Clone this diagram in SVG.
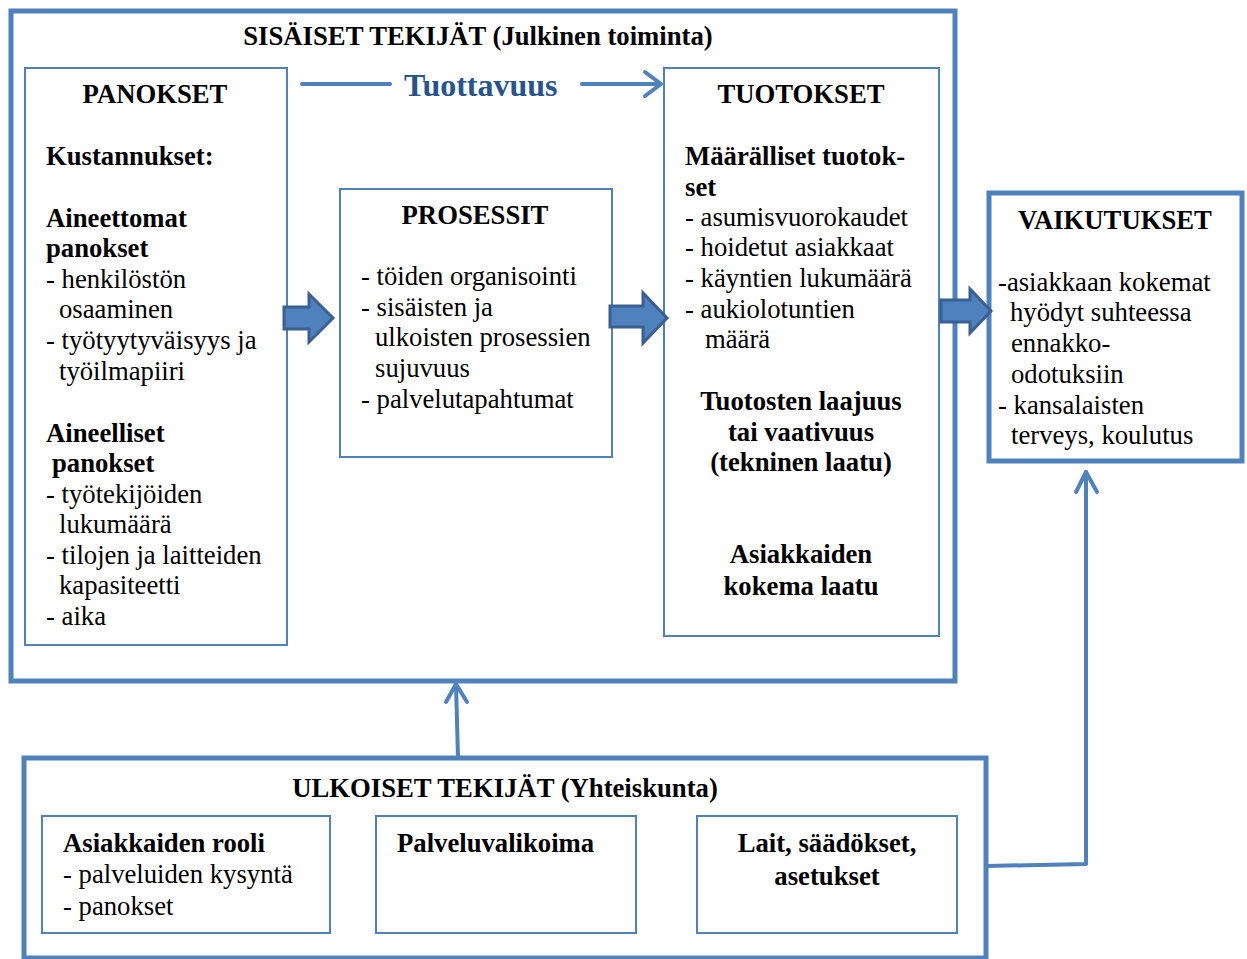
<svg xmlns="http://www.w3.org/2000/svg" width="1247" height="959" viewBox="0 0 1247 959">
<style>
text{font-family:"Liberation Serif","Times New Roman",serif;font-size:26.7px;fill:#000}
.b{font-weight:bold}
.c{text-anchor:middle}
.thin{fill:#fff;stroke:#4f81bd;stroke-width:2}
.thick{fill:none;stroke:#4f81bd;stroke-width:5}
.con{fill:none;stroke:#4f81bd;stroke-width:4;stroke-linecap:round;stroke-linejoin:round}
.blk{fill:#4f81bd;stroke:#3a5f92;stroke-width:3;stroke-linejoin:miter}
.tv{font-size:32px;font-weight:bold;fill:#27548f}
</style>
<rect width="1247" height="959" fill="#fff"/>
<g id="sisaiset">
<rect class="thick" x="11" y="11" width="944" height="670"/>
<text class="b c" x="478" y="45">SISÄISET TEKIJÄT (Julkinen toiminta)</text>
</g>
<g id="panokset">
<rect class="thin" x="25" y="68" width="262" height="577"/>
<text class="b c" x="155" y="103">PANOKSET</text>
<text class="b" x="46" y="165">Kustannukset:</text>
<text class="b" x="46" y="227">Aineettomat</text>
<text class="b" x="46" y="257">panokset</text>
<text x="46" y="288">- henkilöstön</text>
<text x="59" y="318">osaaminen</text>
<text x="46" y="349">- työtyytyväisyys ja</text>
<text x="59" y="380">työilmapiiri</text>
<text class="b" x="46" y="442">Aineelliset</text>
<text class="b" x="52" y="472">panokset</text>
<text x="46" y="503">- työtekijöiden</text>
<text x="59" y="533">lukumäärä</text>
<text x="46" y="564">- tilojen ja laitteiden</text>
<text x="59" y="594">kapasiteetti</text>
<text x="46" y="625">- aika</text>
</g>
<g id="prosessit">
<rect class="thin" x="340" y="189" width="272" height="268"/>
<text class="b c" x="475" y="224">PROSESSIT</text>
<text x="361" y="285">- töiden organisointi</text>
<text x="361" y="316">- sisäisten ja</text>
<text x="375" y="346">ulkoisten prosessien</text>
<text x="375" y="377">sujuvuus</text>
<text x="361" y="408">- palvelutapahtumat</text>
</g>
<g id="tuotokset">
<rect class="thin" x="664" y="68" width="275" height="568"/>
<text class="b c" x="801" y="103">TUOTOKSET</text>
<text class="b" x="685" y="165">Määrälliset tuotok-</text>
<text class="b" x="685" y="196">set</text>
<text x="685" y="226" textLength="223" lengthAdjust="spacing">- asumisvuorokaudet</text>
<text x="685" y="256">- hoidetut asiakkaat</text>
<text x="685" y="287">- käyntien lukumäärä</text>
<text x="685" y="318">- aukiolotuntien</text>
<text x="705" y="348">määrä</text>
<text class="b c" x="801" y="410">Tuotosten laajuus</text>
<text class="b c" x="801" y="441">tai vaativuus</text>
<text class="b c" x="801" y="471">(tekninen laatu)</text>
<text class="b c" x="801" y="563">Asiakkaiden</text>
<text class="b c" x="801" y="595">kokema laatu</text>
</g>
<g id="vaikutukset">
<rect class="thick" x="989" y="193" width="253" height="268" fill="#fff"/>
<text class="b c" x="1115" y="229">VAIKUTUKSET</text>
<text x="998" y="291">-asiakkaan kokemat</text>
<text x="1010" y="321">hyödyt suhteessa</text>
<text x="1011" y="352">ennakko-</text>
<text x="1011" y="383">odotuksiin</text>
<text x="998" y="414">- kansalaisten</text>
<text x="1011" y="444">terveys, koulutus</text>
</g>
<g id="ulkoiset">
<rect class="thick" x="24" y="758" width="962" height="200"/>
<text class="b c" x="505" y="797">ULKOISET TEKIJÄT (Yhteiskunta)</text>
</g>
<g id="asiakkaiden-rooli">
<rect class="thin" x="42" y="816" width="288" height="117"/>
<text class="b" x="63" y="852">Asiakkaiden rooli</text>
<text x="63" y="883">- palveluiden kysyntä</text>
<text x="63" y="915">- panokset</text>
</g>
<g id="palveluvalikoima">
<rect class="thin" x="376" y="816" width="260" height="117"/>
<text class="b" x="397" y="852">Palveluvalikoima</text>
</g>
<g id="lait">
<rect class="thin" x="697" y="816" width="260" height="117"/>
<text class="b c" x="827" y="852">Lait, säädökset,</text>
<text class="b c" x="827" y="885">asetukset</text>
</g>
<g id="connectors">
<line class="con" x1="302" y1="84" x2="390" y2="84"/>
<text class="tv" x="404" y="96">Tuottavuus</text>
<line class="con" x1="582" y1="84" x2="660" y2="84"/>
<polyline class="con" points="645,72 661,84 645,96"/>
<path class="blk" d="M284,307 H309 V294 L333,318 L309,342 V329 H284 Z"/>
<path class="blk" d="M610,306 H643 V293 L667,318 L643,343 V327 H610 Z"/>
<path class="blk" d="M941,300 H970 V289 L991,311 L970,333 V322 H941 Z"/>
<line class="con" x1="458" y1="757" x2="456" y2="685"/>
<polyline class="con" points="446,702 456,684 467,702"/>
<polyline class="con" points="987,866 1086,864 1086,472"/>
<polyline class="con" points="1076,492 1086,472 1097,492"/>
</g>
</svg>
